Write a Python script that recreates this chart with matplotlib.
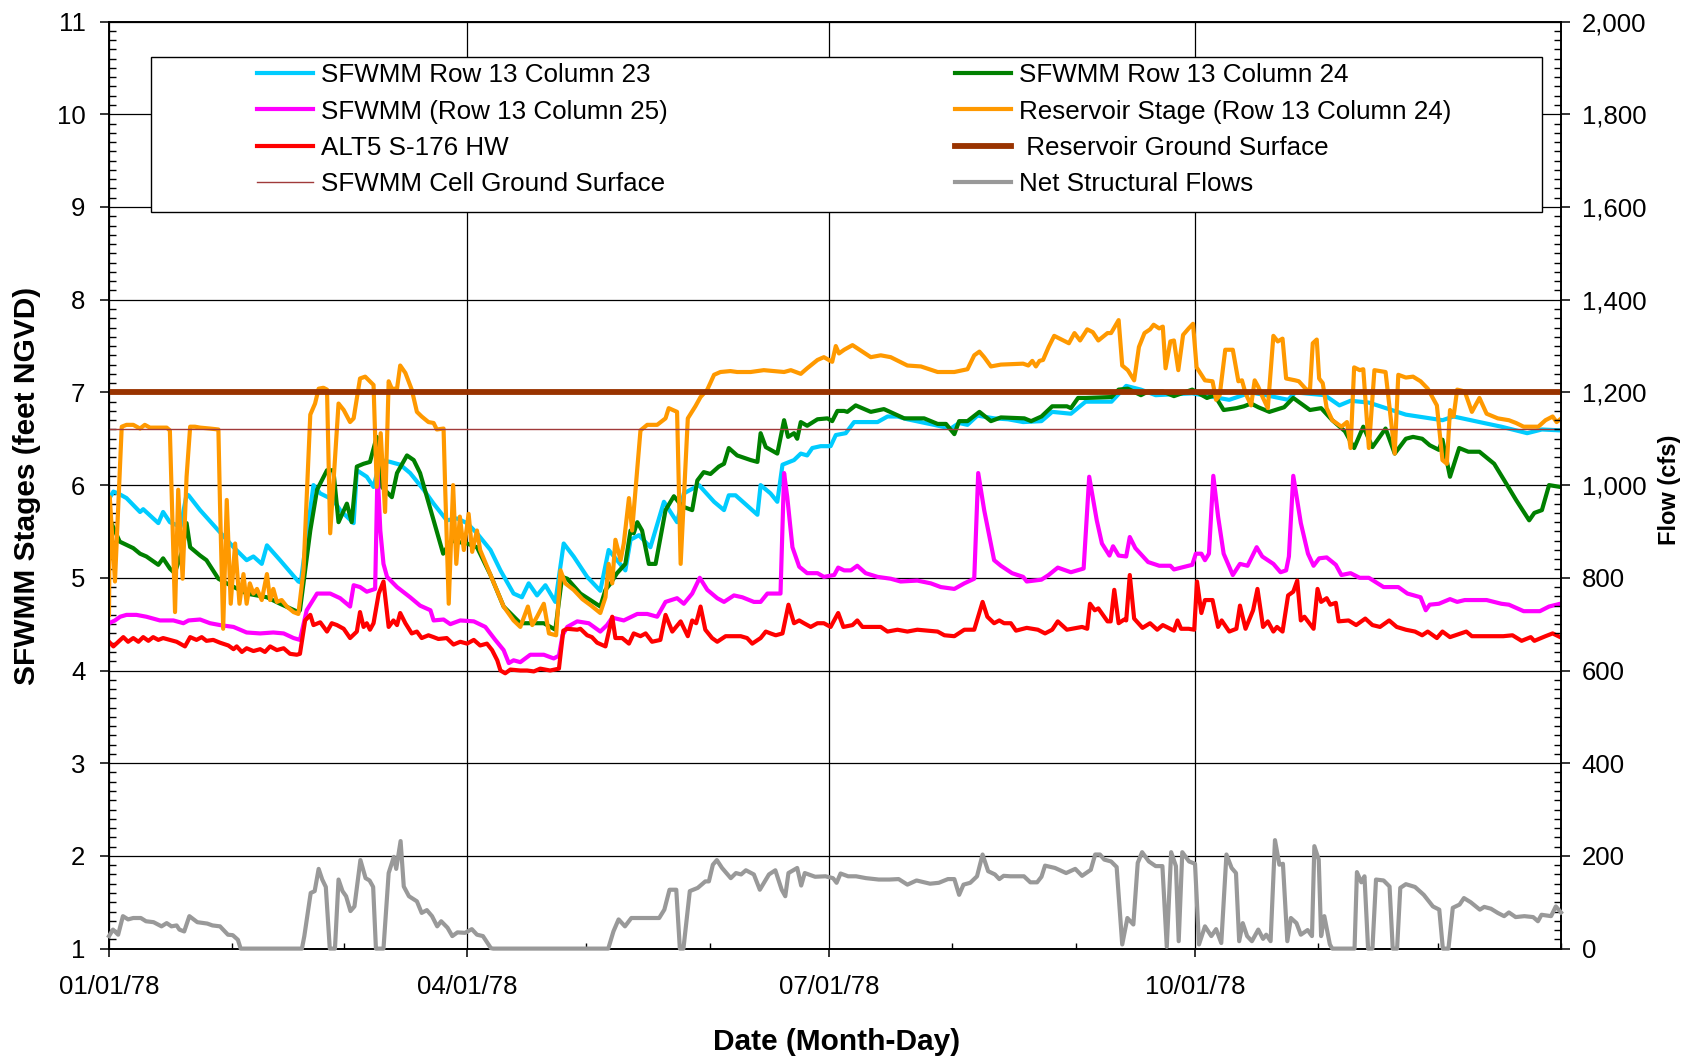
import numpy as np
import pandas as pd
import matplotlib
matplotlib.use("Agg")
import matplotlib.pyplot as plt
import matplotlib.dates as mdates
from matplotlib.ticker import MultipleLocator, FixedLocator, FuncFormatter
from matplotlib.patches import Rectangle

plt.rcParams['font.family'] = ['Liberation Sans', 'DejaVu Sans']

start = pd.Timestamp("1978-01-01")

# days after 01/01/78 and stage (feet NGVD)
col23_day = [0, 1.1, 2.3, 4.4, 7.8, 8.6, 12.4, 13.6, 15.3, 18.0, 19.5, 20.0, 22.9, 27.5, 31.3, 34.6, 36.3, 38.4,
             39.7, 43.0, 47.6, 48.2, 51.4, 53.1, 56.4, 58.1, 61.5, 62.3, 64.8, 66.5, 68.2, 70.7, 73.2, 75.7, 79.1,
             81.6, 84.9, 87.5, 90.0, 92.5, 95.9, 98.4, 101.7, 103.8, 105.5, 107.6, 109.7, 112.2, 114.3, 116.8,
             120.2, 123.5, 125.6, 127.7, 129.8, 131.1, 133.2, 136.1, 139.5, 142.8, 144.5, 148.3, 152.1, 154.6,
             155.8, 157.5, 163.0, 163.8, 166.3, 168.0, 169.3, 172.2, 173.9, 175.5, 176.8, 178.9, 181.4, 182.7,
             185.2, 187.3, 193.2, 195.7, 198.2, 200.7, 207.4, 211.6, 213.7, 215.8, 218.3, 222.5, 226.0, 229.8,
             234.4, 237.1, 241.8, 245.5, 252.0, 255.7, 259.4, 263.1, 272.3, 281.6, 287.1, 290.8, 296.4, 298.2,
             305.6, 309.3, 312.1, 316.7, 326.0, 335.2, 338.0, 344.5, 350.0, 356.5, 360.2, 365.0]
col23_stage = [5.85, 5.93, 5.91, 5.86, 5.71, 5.74, 5.59, 5.71, 5.60, 5.55, 5.90, 5.89, 5.73, 5.51, 5.33, 5.19, 5.23,
               5.15, 5.35, 5.19, 4.96, 4.95, 6.00, 5.91, 5.84, 5.73, 5.59, 6.16, 6.09, 5.98, 6.27, 6.25, 6.22, 6.13,
               5.95, 5.80, 5.62, 5.64, 5.59, 5.48, 5.30, 5.08, 4.83, 4.79, 4.94, 4.81, 4.92, 4.74, 5.37, 5.23, 5.01,
               4.86, 5.30, 5.19, 5.08, 5.41, 5.46, 5.33, 5.82, 5.60, 5.91, 6.00, 5.82, 5.73, 5.89, 5.89, 5.68, 6.00,
               5.91, 5.82, 6.22, 6.27, 6.34, 6.32, 6.40, 6.42, 6.42, 6.54, 6.56, 6.68, 6.68, 6.74, 6.74, 6.71, 6.65,
               6.61, 6.67, 6.65, 6.75, 6.72, 6.71, 6.68, 6.69, 6.79, 6.77, 6.90, 6.90, 7.07, 7.03, 6.97, 6.99, 6.92,
               7.00, 6.97, 6.92, 7.00, 6.97, 6.86, 6.91, 6.89, 6.76, 6.70, 6.74, 6.68, 6.63, 6.56, 6.60, 6.59]

col24_day = [0, 0.5, 2.7, 6.1, 7.8, 9.4, 12.4, 13.6, 15.3, 16.5, 18.5, 19.5, 20.4, 22.9, 24.5, 27.5, 29.6, 34.6,
             39.7, 43.0, 47.6, 48.0, 50.6, 52.3, 54.8, 56.4, 57.7, 59.8, 61.0, 62.3, 64.0, 65.6, 67.3, 68.6, 71.1,
             72.4, 74.9, 76.6, 78.2, 81.6, 84.0, 86.0, 90.0, 92.5, 95.9, 99.2, 103.4, 109.3, 112.2, 113.9, 115.2,
             118.5, 123.5, 124.8, 126.1, 127.7, 129.8, 131.1, 131.9, 132.8, 134.0, 135.7, 137.4, 139.9, 142.0,
             144.1, 146.6, 147.9, 149.5, 151.2, 153.3, 154.6, 155.8, 157.9, 161.3, 163.0, 163.8, 165.1, 168.0,
             169.7, 170.7, 172.2, 173.0, 173.9, 175.5, 178.1, 180.6, 181.8, 183.1, 184.8, 185.6, 187.7, 191.5,
             194.8, 199.9, 204.9, 208.3, 210.4, 212.5, 213.7, 215.8, 218.8, 221.7, 224.2, 230.1, 231.8, 234.4,
             237.1, 240.8, 241.8, 243.6, 245.5, 252.0, 253.8, 256.1, 259.4, 261.2, 264.9, 267.7, 272.3, 276.0,
             277.9, 280.2, 283.4, 285.3, 287.1, 288.9, 291.7, 295.4, 297.7, 301.9, 304.7, 307.5, 310.7, 313.0,
             315.3, 317.6, 320.9, 323.2, 326.0, 327.8, 330.1, 332.0, 334.3, 335.2, 337.1, 339.4, 341.7, 344.5,
             348.2, 350.9, 353.7, 357.0, 358.3, 360.2, 362.0, 364.8]
col24_stage = [5.75, 5.60, 5.39, 5.32, 5.26, 5.23, 5.14, 5.21, 5.10, 5.05, 5.30, 5.59, 5.33, 5.24, 5.19, 4.99, 4.94,
               4.83, 4.79, 4.72, 4.63, 4.65, 5.51, 5.95, 6.16, 6.16, 5.60, 5.80, 5.60, 6.20, 6.23, 6.25, 6.52, 5.98,
               5.87, 6.13, 6.32, 6.27, 6.13, 5.62, 5.26, 5.40, 5.37, 5.33, 5.03, 4.69, 4.51, 4.51, 4.44, 5.01, 4.99,
               4.83, 4.69, 4.87, 4.94, 5.05, 5.15, 5.51, 5.48, 5.60, 5.51, 5.15, 5.15, 5.73, 5.88, 5.77, 5.73, 6.05,
               6.14, 6.12, 6.20, 6.23, 6.40, 6.32, 6.27, 6.25, 6.56, 6.41, 6.34, 6.70, 6.52, 6.56, 6.50, 6.68, 6.64,
               6.71, 6.72, 6.69, 6.80, 6.80, 6.79, 6.86, 6.79, 6.82, 6.72, 6.72, 6.66, 6.66, 6.55, 6.69, 6.69, 6.79,
               6.69, 6.73, 6.72, 6.69, 6.74, 6.85, 6.85, 6.83, 6.94, 6.94, 6.95, 7.03, 7.04, 6.97, 7.01, 7.01, 6.96,
               7.03, 6.94, 6.97, 6.81, 6.83, 6.85, 6.88, 6.84, 6.79, 6.84, 6.94, 6.81, 6.83, 6.70, 6.58, 6.40, 6.63,
               6.41, 6.61, 6.34, 6.50, 6.52, 6.50, 6.43, 6.38, 6.49, 6.09, 6.40, 6.36, 6.36, 6.23, 6.04, 5.84, 5.62,
               5.70, 5.73, 6.00, 5.98]

col25_day = [0, 1.5, 2.8, 4.4, 6.9, 9.4, 12.8, 16.2, 18.7, 20.0, 22.9, 25.4, 27.9, 31.3, 34.6, 38.0, 41.3, 43.9,
             46.4, 48.0, 49.7, 52.3, 55.6, 58.1, 60.6, 61.5, 63.1, 64.8, 66.9, 67.5, 68.2, 69.0, 69.9, 72.4, 75.7,
             78.2, 80.8, 81.6, 84.1, 85.8, 88.3, 91.7, 94.6, 97.1, 99.2, 100.5, 101.7, 103.4, 105.9, 109.3, 111.8,
             113.1, 114.0, 115.2, 117.7, 120.6, 123.5, 125.2, 126.5, 129.4, 132.8, 135.3, 137.8, 139.9, 142.8,
             144.5, 146.6, 148.5, 150.4, 152.9, 154.6, 157.1, 159.2, 162.1, 163.8, 165.5, 168.8, 169.7, 170.5,
             171.8, 173.5, 175.5, 178.1, 179.7, 182.3, 183.3, 184.8, 186.5, 188.1, 190.2, 193.2, 196.5, 199.0,
             203.2, 206.6, 209.1, 212.5, 215.0, 217.5, 218.5, 220.0, 222.5, 224.2, 227.0, 229.8, 230.7, 234.4,
             236.2, 238.5, 241.8, 245.0, 246.4, 248.3, 249.6, 251.5, 252.4, 253.8, 255.7, 256.6, 258.0, 261.2,
             264.0, 266.8, 267.7, 270.5, 272.3, 273.2, 274.6, 275.5, 276.5, 277.6, 278.8, 280.2, 282.5, 284.3,
             286.2, 288.5, 289.9, 292.7, 294.5, 295.9, 296.6, 297.7, 299.6, 301.4, 302.8, 304.2, 306.1, 308.4,
             309.8, 312.1, 314.4, 316.7, 320.4, 324.1, 326.4, 329.7, 331.0, 332.0, 334.3, 337.1, 338.9, 340.8,
             346.3, 350.0, 351.9, 355.6, 359.7, 362.0, 364.8]
col25_stage = [4.51, 4.54, 4.58, 4.60, 4.60, 4.58, 4.54, 4.54, 4.51, 4.54, 4.55, 4.51, 4.49, 4.47, 4.41, 4.40, 4.41,
               4.40, 4.35, 4.33, 4.65, 4.83, 4.83, 4.78, 4.69, 4.92, 4.90, 4.85, 4.88, 6.16, 5.51, 5.15, 5.01, 4.90,
               4.79, 4.70, 4.65, 4.54, 4.55, 4.50, 4.54, 4.53, 4.47, 4.33, 4.22, 4.08, 4.11, 4.09, 4.17, 4.17, 4.13,
               4.16, 4.38, 4.47, 4.53, 4.51, 4.42, 4.49, 4.57, 4.54, 4.61, 4.61, 4.58, 4.74, 4.78, 4.72, 4.83, 5.00,
               4.87, 4.78, 4.74, 4.81, 4.79, 4.74, 4.74, 4.83, 4.83, 6.13, 5.87, 5.33, 5.12, 5.05, 5.05, 5.01, 5.03,
               5.11, 5.08, 5.08, 5.13, 5.05, 5.01, 4.99, 4.96, 4.97, 4.94, 4.90, 4.88, 4.94, 4.99, 6.13, 5.73, 5.19,
               5.13, 5.05, 5.01, 4.96, 4.98, 5.03, 5.11, 5.06, 5.10, 6.09, 5.62, 5.37, 5.24, 5.34, 5.24, 5.23, 5.44,
               5.32, 5.17, 5.13, 5.13, 5.09, 5.12, 5.14, 5.26, 5.26, 5.19, 5.26, 6.10, 5.66, 5.26, 5.03, 5.15, 5.13,
               5.33, 5.23, 5.15, 5.06, 5.08, 5.23, 6.10, 5.59, 5.26, 5.13, 5.21, 5.22, 5.14, 5.03, 5.05, 5.00, 5.00,
               4.90, 4.90, 4.83, 4.79, 4.65, 4.71, 4.72, 4.77, 4.74, 4.76, 4.76, 4.72, 4.71, 4.64, 4.64, 4.69, 4.72]

res_day = [0, 0.2, 1.5, 3.2, 4.4, 6.1, 7.8, 9.0, 10.3, 14.5, 15.3, 16.6, 17.4, 18.5, 19.5, 20.4, 21.6, 22.9, 25.4,
           27.5, 27.9, 28.7, 29.6, 30.6, 31.7, 32.8, 33.8, 34.6, 35.4, 36.3, 37.2, 38.4, 39.7, 40.5, 41.3, 42.2,
           43.4, 44.7, 46.4, 47.6, 48.9, 50.6, 51.8, 52.7, 53.9, 54.8, 55.6, 57.7, 59.0, 60.6, 61.5, 63.1, 64.4,
           66.5, 67.3, 68.3, 69.4, 70.3, 71.1, 72.4, 73.2, 74.5, 76.1, 77.4, 78.6, 80.3, 81.6, 82.4, 84.1, 84.5,
           85.4, 86.5, 87.3, 88.2, 89.2, 90.4, 91.3, 92.5, 93.3, 95.9, 99.2, 101.7, 103.4, 105.3, 106.4, 107.6,
           109.3, 110.6, 112.4, 113.5, 114.7, 116.8, 119.0, 121.2, 123.5, 124.8, 125.6, 126.5, 127.3, 128.6,
           129.4, 130.7, 131.5, 133.6, 135.3, 137.8, 139.9, 140.7, 142.8, 143.7, 145.5, 147.4, 148.7, 150.4,
           152.1, 153.7, 156.2, 157.9, 161.3, 164.6, 169.7, 171.4, 173.9, 175.5, 178.1, 179.7, 181.8, 182.7,
           183.5, 184.8, 186.9, 189.4, 191.5, 194.0, 196.5, 200.7, 204.1, 208.3, 212.5, 215.8, 217.5, 218.8,
           220.0, 221.7, 224.2, 229.8, 231.1, 232.1, 233.0, 233.9, 234.8, 236.2, 237.6, 239.9, 241.3, 242.7,
           244.1, 245.9, 247.3, 248.7, 251.0, 251.9, 253.8, 254.7, 256.1, 257.7, 258.9, 260.3, 261.7, 262.6,
           264.0, 264.9, 265.6, 266.8, 267.7, 268.8, 270.0, 271.4, 272.5, 273.4, 275.5, 277.4, 278.3, 279.2,
           280.6, 282.5, 283.9, 284.8, 285.7, 287.1, 288.0, 288.9, 290.1, 291.3, 292.7, 293.8, 295.0, 295.9,
           298.2, 299.1, 301.0, 301.9, 302.6, 303.6, 304.2, 305.1, 306.1, 307.5, 309.8, 311.2, 312.1, 313.0,
           314.4, 315.3, 316.7, 318.1, 319.5, 320.9, 323.2, 324.1, 326.0, 327.8, 329.7, 331.5, 333.8, 335.2,
           336.3, 337.1, 338.0, 338.9, 340.8, 342.6, 344.5, 346.3, 349.1, 351.9, 353.7, 355.6, 359.3, 361.1,
           362.9, 363.9, 364.8]
res_stage = [4.60, 5.87, 4.96, 6.63, 6.65, 6.65, 6.61, 6.65, 6.62, 6.62, 6.59, 4.63, 5.95, 4.99, 6.09, 6.63, 6.63,
             6.62, 6.61, 6.60, 5.80, 4.45, 5.84, 4.72, 5.37, 4.72, 5.04, 4.72, 4.94, 4.83, 4.88, 4.76, 5.04, 4.76,
             4.88, 4.74, 4.76, 4.69, 4.63, 4.61, 5.08, 6.76, 6.88, 7.04, 7.05, 7.03, 5.48, 6.88, 6.81, 6.68, 6.72,
             7.15, 7.17, 7.08, 5.98, 6.56, 5.71, 7.12, 7.04, 7.04, 7.29, 7.21, 7.03, 6.79, 6.74, 6.68, 6.67, 6.60,
             6.61, 5.98, 4.72, 6.00, 5.15, 5.66, 5.30, 5.69, 5.28, 5.51, 5.30, 5.03, 4.69, 4.54, 4.47, 4.69, 4.49,
             4.58, 4.72, 4.40, 4.38, 5.08, 4.94, 4.87, 4.77, 4.70, 4.62, 4.79, 5.15, 4.94, 5.41, 5.19, 5.37, 5.86,
             5.51, 6.59, 6.65, 6.65, 6.72, 6.83, 6.79, 5.15, 6.72, 6.85, 6.95, 7.03, 7.19, 7.22, 7.23, 7.22, 7.22,
             7.24, 7.22, 7.24, 7.20, 7.26, 7.35, 7.38, 7.33, 7.50, 7.42, 7.46, 7.51, 7.44, 7.38, 7.40, 7.38, 7.29,
             7.28, 7.22, 7.22, 7.25, 7.40, 7.44, 7.38, 7.28, 7.30, 7.31, 7.29, 7.34, 7.28, 7.34, 7.35, 7.49, 7.61,
             7.56, 7.53, 7.64, 7.56, 7.68, 7.65, 7.56, 7.64, 7.64, 7.78, 7.29, 7.24, 7.13, 7.49, 7.64, 7.68, 7.73,
             7.69, 7.71, 7.26, 7.55, 7.56, 7.24, 7.62, 7.69, 7.74, 7.27, 7.13, 7.12, 6.92, 6.97, 7.46, 7.46, 7.12,
             7.13, 6.99, 6.86, 7.13, 7.06, 6.94, 6.83, 7.61, 7.55, 7.58, 7.15, 7.13, 7.12, 7.03, 7.03, 7.53, 7.57,
             7.15, 7.10, 6.83, 6.70, 6.63, 6.68, 6.40, 7.27, 7.24, 7.25, 6.40, 7.24, 7.23, 7.22, 6.34, 7.19, 7.16,
             7.17, 7.12, 7.04, 6.86, 6.27, 6.23, 6.81, 6.74, 7.03, 7.01, 6.79, 6.94, 6.77, 6.72, 6.70, 6.67, 6.63,
             6.63, 6.70, 6.74, 6.68, 6.71]

s176_day = [0, 1.1, 3.6, 4.8, 6.1, 7.4, 8.6, 9.9, 11.1, 12.4, 13.6, 15.3, 17.0, 19.1, 20.4, 22.0, 23.3, 24.5, 26.2,
            27.9, 30.0, 31.3, 32.1, 33.4, 34.6, 36.3, 38.0, 39.2, 40.5, 42.2, 43.9, 45.5, 47.2, 48.0, 49.3, 50.6,
            51.4, 53.1, 54.8, 56.0, 57.3, 59.0, 60.6, 62.3, 63.1, 64.0, 64.8, 65.6, 66.5, 67.8, 69.0, 70.3, 71.5,
            72.4, 73.2, 74.5, 76.1, 77.4, 78.6, 80.3, 81.6, 82.8, 84.9, 86.6, 88.3, 90.0, 91.7, 93.3, 95.0, 96.3,
            97.6, 98.4, 99.6, 100.9, 103.4, 105.1, 106.8, 108.4, 110.9, 113.1, 114.2, 115.2, 117.7, 118.5, 120.2,
            121.4, 122.7, 124.8, 126.5, 127.3, 129.0, 130.7, 131.9, 133.6, 134.9, 136.5, 138.6, 139.9, 141.6,
            143.7, 145.5, 146.6, 147.6, 148.7, 149.9, 151.6, 152.9, 155.0, 158.8, 160.4, 161.7, 163.8, 165.1,
            166.3, 167.6, 169.3, 170.8, 172.2, 173.5, 174.7, 176.4, 178.1, 179.7, 181.4, 183.3, 184.6, 186.9,
            188.1, 189.4, 194.0, 195.7, 198.2, 200.7, 203.2, 208.3, 210.0, 212.5, 215.0, 217.5, 219.6, 220.8,
            222.5, 223.8, 225.0, 226.7, 228.0, 230.7, 233.5, 235.3, 237.1, 238.5, 240.8, 244.6, 245.9, 246.6,
            247.8, 248.7, 251.0, 251.8, 252.7, 253.8, 255.2, 255.7, 256.6, 257.7, 259.8, 261.7, 263.5, 264.9,
            267.7, 268.6, 269.5, 271.4, 272.8, 273.5, 274.6, 275.5, 277.4, 278.8, 279.7, 281.6, 283.4, 284.3,
            285.7, 287.6, 288.7, 290.1, 291.3, 292.7, 293.6, 295.0, 296.4, 297.7, 298.7, 299.6, 300.5, 302.8,
            303.8, 304.7, 306.1, 307.0, 308.4, 309.1, 311.6, 313.5, 315.8, 317.6, 319.5, 321.8, 323.7, 326.0,
            328.3, 330.1, 331.5, 333.8, 335.2, 337.1, 341.2, 342.6, 347.2, 350.5, 352.8, 355.1, 357.4, 358.3,
            361.1, 362.9, 364.8]
s176_stage = [4.31, 4.26, 4.36, 4.31, 4.35, 4.31, 4.36, 4.32, 4.36, 4.33, 4.35, 4.33, 4.31, 4.26, 4.36, 4.33, 4.36,
              4.32, 4.33, 4.30, 4.27, 4.23, 4.26, 4.20, 4.24, 4.21, 4.23, 4.20, 4.26, 4.22, 4.24, 4.18, 4.17, 4.18,
              4.54, 4.60, 4.49, 4.52, 4.42, 4.51, 4.49, 4.45, 4.35, 4.42, 4.63, 4.47, 4.51, 4.44, 4.51, 4.83, 4.96,
              4.47, 4.54, 4.49, 4.62, 4.51, 4.40, 4.42, 4.35, 4.38, 4.36, 4.34, 4.35, 4.28, 4.31, 4.29, 4.33, 4.27,
              4.29, 4.22, 4.11, 4.00, 3.97, 4.01, 4.00, 4.00, 3.99, 4.02, 4.00, 4.02, 4.43, 4.45, 4.44, 4.45, 4.38,
              4.36, 4.30, 4.26, 4.58, 4.35, 4.35, 4.29, 4.40, 4.37, 4.40, 4.31, 4.33, 4.60, 4.42, 4.53, 4.37, 4.54,
              4.51, 4.69, 4.44, 4.35, 4.31, 4.37, 4.37, 4.35, 4.29, 4.35, 4.42, 4.40, 4.38, 4.40, 4.71, 4.51, 4.54,
              4.51, 4.47, 4.51, 4.51, 4.47, 4.62, 4.47, 4.49, 4.54, 4.47, 4.47, 4.42, 4.44, 4.42, 4.44, 4.42, 4.38,
              4.37, 4.44, 4.44, 4.74, 4.58, 4.51, 4.54, 4.51, 4.51, 4.43, 4.46, 4.44, 4.40, 4.44, 4.53, 4.44, 4.47,
              4.45, 4.72, 4.65, 4.67, 4.53, 4.53, 4.87, 4.51, 4.55, 4.54, 5.03, 4.56, 4.46, 4.51, 4.44, 4.49, 4.43,
              4.54, 4.45, 4.45, 4.44, 4.96, 4.62, 4.76, 4.76, 4.47, 4.54, 4.42, 4.45, 4.70, 4.45, 4.65, 4.88, 4.47,
              4.53, 4.42, 4.47, 4.42, 4.81, 4.85, 4.97, 4.54, 4.58, 4.45, 4.88, 4.74, 4.78, 4.71, 4.73, 4.53, 4.54,
              4.49, 4.56, 4.49, 4.47, 4.54, 4.47, 4.44, 4.42, 4.38, 4.42, 4.35, 4.42, 4.36, 4.42, 4.37, 4.37, 4.37,
              4.38, 4.32, 4.36, 4.32, 4.37, 4.40, 4.36]

reservoir_ground = 7.0
cell_ground = 6.6

# net structural flows (cfs), right axis
flow_day = [0, 1.0, 2.3, 3.5, 4.8, 6.1, 8.0, 9.3, 11.2, 13.2, 14.5, 15.7, 17.0, 17.7, 18.9, 20.2, 22.2, 24.7, 26.0,
            27.9, 29.9, 31.1, 32.4, 33.1, 48.5, 49.1, 50.7, 51.7, 52.7, 53.6, 54.5, 55.5, 56.8, 57.7, 58.7, 59.6,
            60.7, 61.7, 63.2, 64.5, 65.5, 66.4, 67.1, 69.0, 70.3, 71.6, 72.2, 73.3, 74.1, 75.4, 77.4, 78.6, 79.9,
            81.2, 82.5, 83.5, 85.1, 86.3, 87.6, 89.5, 91.2, 92.5, 94.0, 96.0, 96.6, 125.5, 126.8, 128.1, 129.7,
            131.3, 138.3, 139.6, 140.9, 142.6, 143.5, 144.4, 146.0, 148.0, 149.9, 150.8, 151.8, 152.8, 154.1,
            156.3, 157.6, 158.9, 160.1, 162.1, 163.6, 165.9, 167.5, 169.1, 170.0, 170.8, 173.0, 174.0, 174.9,
            177.5, 180.1, 182.0, 182.9, 183.9, 185.8, 187.8, 190.3, 193.5, 196.2, 198.5, 200.7, 203.0, 206.4,
            208.6, 210.9, 212.5, 213.7, 214.8, 216.5, 218.2, 219.6, 221.0, 222.7, 223.8, 224.9, 226.6, 230.0,
            231.6, 233.3, 234.4, 235.3, 237.8, 240.6, 242.9, 244.6, 246.8, 247.9, 249.1, 250.2, 251.9, 253.3,
            254.7, 256.0, 257.5, 258.6, 259.7, 261.4, 263.1, 264.8, 265.9, 267.0, 268.2, 268.9, 269.8, 271.5,
            273.0, 274.0, 275.5, 277.1, 278.3, 279.6, 280.9, 282.2, 283.3, 284.1, 285.0, 286.1, 287.3, 288.9,
            290.1, 290.9, 292.0, 293.1, 294.2, 295.1, 296.2, 297.1, 298.5, 299.6, 301.3, 302.4, 303.0, 304.1,
            304.7, 305.5, 306.9, 307.5, 313.1, 313.7, 314.8, 315.6, 316.5, 317.6, 318.5, 320.4, 321.9, 322.7,
            323.8, 324.6, 326.0, 328.3, 330.5, 332.8, 334.4, 335.3, 336.7, 337.8, 339.5, 340.6, 342.3, 344.6,
            345.7, 347.4, 349.1, 350.7, 351.9, 353.6, 355.8, 358.0, 359.2, 360.1, 362.5, 363.7, 365.0]
flow_cfs = [27, 41, 30, 70, 63, 66, 66, 59, 57, 48, 55, 48, 50, 41, 37, 70, 57, 54, 50, 48, 30, 29, 19, 0, 0, 27, 120,
            124, 172, 149, 133, 0, 0, 149, 124, 113, 81, 91, 191, 152, 147, 133, 0, 0, 163, 198, 172, 232, 134, 113,
            102, 77, 83, 70, 48, 59, 45, 27, 35, 34, 42, 30, 27, 1, 0, 0, 37, 63, 48, 66, 66, 84, 127, 127, 0, 0,
            124, 131, 145, 145, 181, 191, 174, 152, 163, 160, 169, 160, 127, 160, 169, 127, 113, 163, 174, 136, 163,
            155, 156, 152, 142, 162, 156, 156, 152, 149, 149, 150, 138, 147, 140, 142, 150, 150, 116, 138, 142, 156,
            203, 167, 160, 150, 157, 156, 156, 143, 143, 155, 179, 174, 163, 172, 157, 170, 203, 203, 192, 188, 176,
            9, 66, 52, 185, 208, 188, 178, 178, 4, 208, 178, 16, 208, 188, 183, 9, 48, 27, 42, 12, 203, 174, 163,
            16, 55, 27, 16, 41, 21, 30, 16, 234, 181, 183, 16, 66, 55, 30, 40, 27, 221, 192, 27, 70, 9, 0, 0, 165,
            143, 156, 0, 0, 149, 147, 134, 0, 0, 131, 139, 133, 116, 91, 84, 0, 0, 88, 95, 109, 100, 84, 90, 86, 77,
            70, 78, 68, 70, 68, 59, 73, 70, 91, 78]

quarter_ticks = ["1978-01-01", "1978-04-01", "1978-07-01", "1978-10-01"]


def to_dates(days):
    return (start + pd.to_timedelta(np.array(days), unit="D")).to_numpy()


fig = plt.figure(figsize=(16.94, 10.56), dpi=100)
ax = fig.add_axes([109 / 1694, 1 - 948.6 / 1056, 1452 / 1694, 927 / 1056])
ax2 = ax.twinx()

lw = 3.0
l23, = ax.plot(to_dates(col23_day), col23_stage, color="#00CCFF", lw=lw, zorder=2.0)
l24, = ax.plot(to_dates(col24_day), col24_stage, color="#008000", lw=lw, zorder=2.1)
l25, = ax.plot(to_dates(col25_day), col25_stage, color="#FF00FF", lw=lw, zorder=2.2)
l176, = ax.plot(to_dates(s176_day), s176_stage, color="#FF0000", lw=lw, zorder=2.3)
lres, = ax.plot(to_dates(res_day), res_stage, color="#FF9900", lw=lw, zorder=2.4)
lrg = ax.axhline(reservoir_ground, color="#993300", lw=4.2, zorder=2.6)
lcg = ax.axhline(cell_ground, color="#A03A3A", lw=1.0, zorder=2.7)
lflow, = ax2.plot(to_dates(flow_day), flow_cfs, color="#999999", lw=lw, zorder=3, clip_on=False)

# x axis
ax.set_xlim(start, start + pd.Timedelta(days=365))
ax.xaxis.set_major_locator(FixedLocator(mdates.date2num(pd.to_datetime(quarter_ticks))))
ax.xaxis.set_minor_locator(mdates.MonthLocator())
ax.xaxis.set_major_formatter(mdates.DateFormatter("%m/%d/%y"))

# left axis
ax.set_ylim(1, 11)
ax.yaxis.set_major_locator(MultipleLocator(1))
ax.yaxis.set_minor_locator(MultipleLocator(0.1))

# right axis
ax2.set_ylim(0, 2000)
ax2.yaxis.set_major_locator(MultipleLocator(200))
ax2.yaxis.set_minor_locator(MultipleLocator(20))
ax2.yaxis.set_major_formatter(FuncFormatter(lambda v, p: f"{v:,.0f}"))

ax.set_axisbelow(True)
ax.grid(True, which="major", color="black", lw=0.9)

ax.tick_params(axis="y", which="major", direction="out", length=6.5, width=1.1, pad=10.5, labelsize=18.5)
ax.tick_params(axis="y", which="minor", direction="in", length=5, width=1.0)
ax.tick_params(axis="x", which="major", direction="out", length=6, width=1.1, pad=13, labelsize=18.5)
ax.tick_params(axis="x", which="minor", direction="in", length=4.5, width=1.0)
ax2.tick_params(axis="y", which="major", direction="out", length=6.5, width=1.1, pad=8.5, labelsize=18.5)
ax2.tick_params(axis="y", which="minor", direction="in", length=5, width=1.0)
for a in (ax, ax2):
    for s in a.spines.values():
        s.set_linewidth(1.2)

# axis titles
fig.text(27 / 1694, 1 - 486 / 1056, "SFWMM Stages (feet NGVD)", rotation=90, ha="center", va="center",
         fontsize=21.5, fontweight="bold")
fig.text(1669 / 1694, 1 - 490 / 1056, "Flow (cfs)", rotation=90, ha="center", va="center",
         fontsize=17, fontweight="bold")
fig.text(837 / 1694, 1 - 1050 / 1056, "Date (Month-Day)", ha="center", va="baseline",
         fontsize=21.5, fontweight="bold")

# legend box + two columns
ax2.add_patch(Rectangle((0.0289, 0.7949), 0.958, 0.1672, transform=ax2.transAxes, facecolor="white",
                        edgecolor="black", lw=1.0, zorder=4.9))
leg_kw = dict(loc="upper left", frameon=False, fontsize=18.7, handlelength=2.15, handletextpad=0.3,
              labelspacing=0.48, borderpad=0, borderaxespad=0)
leg1 = ax2.legend([l23, l25, l176, lcg],
                  ["SFWMM Row 13 Column 23", "SFWMM (Row 13 Column 25)", "ALT5 S-176 HW",
                   "SFWMM Cell Ground Surface"],
                  bbox_to_anchor=(0.1019, 0.9553), **leg_kw)
leg1.set_zorder(6)
ax2.add_artist(leg1)
leg2 = ax2.legend([l24, lres, lrg, lflow],
                  ["SFWMM Row 13 Column 24", "Reservoir Stage (Row 13 Column 24)", " Reservoir Ground Surface",
                   "Net Structural Flows"],
                  bbox_to_anchor=(0.5826, 0.9553), **leg_kw)
leg2.set_zorder(6)

fig.savefig("out.png", dpi=100)
